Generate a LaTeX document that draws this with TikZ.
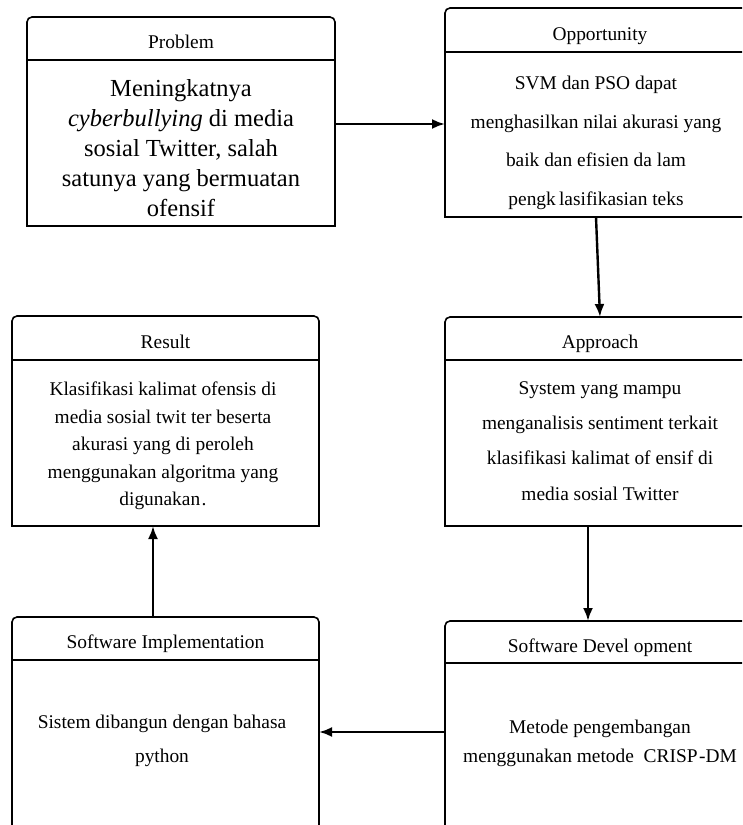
\documentclass[tikz,border=0pt]{standalone}
\usepackage{fontspec}
\setmainfont{Liberation Serif}
\usetikzlibrary{positioning, arrows.meta}

\begin{document}
\begin{tikzpicture}[x=1pt, y=-1pt, line width=1.6pt]
  \tikzstyle{kepala}=[anchor=north west, inner sep=0, outer sep=0, minimum height=43pt, text height=22pt, text depth=2pt, font=\fontsize{19.4}{23}\selectfont];
  \tikzstyle{kotak}=[draw, below right=0pt and 0pt of #1, inner sep=0, outer sep=0];
  \tikzstyle{isi}=[align=center, inner sep=0];
  \tikzstyle{tepi}=[rounded corners=5pt];
  \tikzstyle{panah}=[-{Latex[length=13pt, width=10pt]}, line width=2.4pt];

  \path[use as bounding box, clip] (0,0) rectangle (742,825);

  % kepala
  \node[kepala, minimum width=308pt] (probHead) at (27,17) {Problem};
  \node[kepala, minimum width=310pt, minimum height=44pt] (oppHead) at (445,8) {Opportunity};
  \node[kepala, minimum width=310pt] (appHead) at (445,317) {Approach};
  \node[kepala, minimum width=310pt, minimum height=42pt] (devHead) at (445,621) {Software Devel opment};
  \node[kepala, minimum width=307pt, minimum height=44pt] (resHead) at (12,316) {Result};
  \node[kepala, minimum width=307pt] (implHead) at (12,617) {Software Implementation};

  \foreach \n in {probHead, oppHead, appHead, devHead, resHead, implHead}
    \draw[tepi] (\n.south west) -- (\n.north west) -- (\n.north east) -- (\n.south east);

  % kotak isi
  \node[kotak=probHead.south west, minimum width=308pt, minimum height=166pt] (probBody) {};
  \node[kotak=oppHead.south west, minimum width=310pt, minimum height=165pt] (oppBody) {};
  \node[kotak=appHead.south west, minimum width=310pt, minimum height=166pt] (appBody) {};
  \node[kotak=devHead.south west, minimum width=310pt, minimum height=250pt] (devBody) {};
  \node[kotak=resHead.south west, minimum width=307pt, minimum height=166pt] (resBody) {};
  \node[kotak=implHead.south west, minimum width=307pt, minimum height=250pt] (implBody) {};

  % teks
  \node[isi, font=\fontsize{24.5}{30}\selectfont] (probIsi) at (181,148)
    {Meningkatnya\\\textit{cyberbullying} di media\\sosial Twitter, salah\\satunya yang bermuatan\\ofensif};
  \node[isi, font=\fontsize{19.4}{38.5}\selectfont] (oppIsi) at (596,143)
    {SVM dan PSO dapat\\menghasilkan nilai akurasi yang\\baik dan efisien da lam\\pengk\,lasifikasian teks};
  \node[isi, font=\fontsize{19.4}{35.3}\selectfont] (appIsi) at (600,441)
    {System yang mampu\\menganalisis sentiment terkait\\klasifikasi kalimat of ensif di\\media sosial Twitter};
  \node[isi, font=\fontsize{19.4}{29}\selectfont] (devIsi) at (600,743)
    {Metode pengembangan\\menggunakan metode\ \ CRISP\kern1.5pt-DM};
  \node[isi, font=\fontsize{19.4}{27.5}\selectfont] (resIsi) at (163,446)
    {Klasifikasi kalimat ofensis di\\media sosial twit ter beserta\\akurasi yang di peroleh\\menggunakan algoritma yang\\digunakan\kern1.5pt.};
  \node[isi, font=\fontsize{19.4}{33.5}\selectfont] (implIsi) at (162,741)
    {Sistem dibangun dengan bahasa\\python};

  % panah
  \draw[panah] ([yshift=19pt]probBody.east) -- ([yshift=19pt]probBody.east -| oppBody.west);
  \draw[panah] ([xshift=-4pt]oppBody.south) -- (appHead.north);
  \draw[panah] ([xshift=-12pt]appBody.south) -- ([xshift=-12pt]devHead.north);
  \draw[panah] ([yshift=-69pt]devHead.south west) -- ([yshift=-69pt]devHead.south west -| implBody.east);
  \draw[panah] ([xshift=-12.5pt]implHead.north) -- ([xshift=-12.5pt]implHead.north |- resBody.south);
\end{tikzpicture}
\end{document}
